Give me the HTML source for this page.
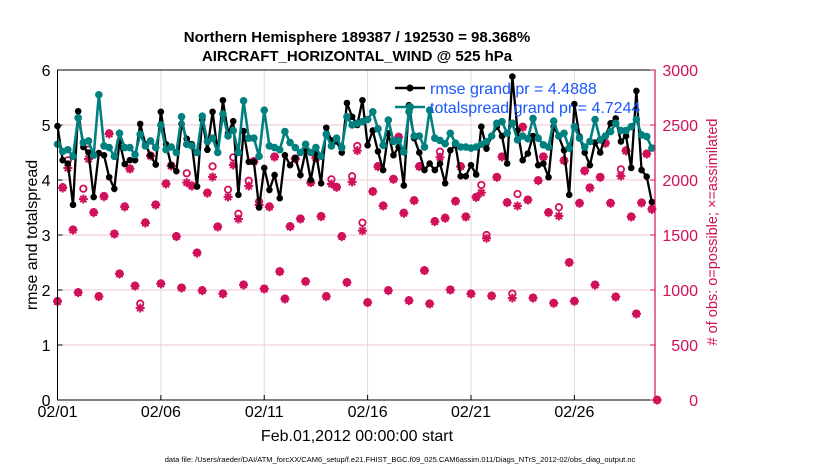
<!DOCTYPE html>
<html><head><meta charset="utf-8"><style>
body{margin:0;background:#fff;font-family:"Liberation Sans",sans-serif}
svg text{font-family:"Liberation Sans",sans-serif}
</style></head><body>
<svg id="chart" width="830" height="470" xmlns="http://www.w3.org/2000/svg">
<rect width="830" height="470" fill="#fff"/>
<text x="357" y="42" text-anchor="middle" font-size="15" font-weight="bold">Northern Hemisphere 189387 / 192530 = 98.368%</text>
<text x="357" y="61" text-anchor="middle" font-size="15" font-weight="bold">AIRCRAFT_HORIZONTAL_WIND @ 525 hPa</text>
<g id="grid"></g>
<g id="marks"></g>
<g id="axes"></g>
<text transform="translate(37,235) rotate(-90)" text-anchor="middle" font-size="16">rmse and totalspread</text>
<text transform="translate(717,232) rotate(-90)" text-anchor="middle" font-size="14.5" fill="#d0105a"># of obs: o=possible; ×=assimilated</text>
<text x="357" y="441" text-anchor="middle" font-size="16">Feb.01,2012 00:00:00 start</text>
<text x="400" y="462" text-anchor="middle" font-size="7.5">data file: /Users/raeder/DAI/ATM_forcXX/CAM6_setup/f.e21.FHIST_BGC.f09_025.CAM6assim.011/Diags_NTrS_2012-02/obs_diag_output.nc</text>
<g id="legend">
<line x1="395" y1="88" x2="425" y2="88" stroke="#000" stroke-width="2.5"/>
<circle cx="410" cy="88" r="3.5" fill="#000"/>
<text x="430" y="94" font-size="16" fill="#1a55ff">rmse grand pr = 4.4888</text>
<line x1="395" y1="107" x2="425" y2="107" stroke="#00807f" stroke-width="2.5"/>
<circle cx="410" cy="107" r="4" fill="#00807f"/>
<text x="430" y="113" font-size="16" fill="#1a55ff">totalspread grand pr = 4.7244</text>
</g>
</svg>
<script>
const rmse=[4.98,4.36,4.3,3.55,5.25,4.6,4.5,3.69,4.49,4.45,4.05,3.84,4.7,4.29,4.36,4.36,5.02,4.65,4.45,4.28,
5.24,4.65,4.27,4.16,5.02,4.75,4.65,3.88,5.1,4.55,5.24,4.5,5.45,4.85,5.07,3.73,4.89,4.33,4.33,3.5,
4.22,3.82,4.09,3.67,4.45,4.27,4.4,4.09,4.52,4.0,4.5,3.94,4.95,4.72,4.7,4.5,5.4,5.15,5.0,5.45,
4.63,4.9,4.52,4.18,4.85,4.45,4.6,3.9,5.36,4.76,4.5,4.18,4.3,4.18,4.3,3.94,4.54,4.63,
4.07,4.07,4.27,4.1,4.97,4.57,4.8,4.97,4.8,4.3,5.88,4.9,4.36,4.48,4.8,4.27,4.3,4.05,4.97,4.79,
4.54,3.73,5.38,4.79,4.5,4.27,4.68,4.5,4.8,5.03,5.12,4.7,4.8,4.22,5.62,4.18,4.06,3.6];
const spread=[4.65,4.52,4.55,4.43,5.13,4.68,4.71,4.45,5.55,4.62,4.59,4.43,4.85,4.59,4.59,4.46,4.83,4.62,4.71,4.59,
5.0,4.55,4.6,4.5,5.15,4.65,4.62,4.5,5.16,4.7,4.76,4.5,5.2,4.8,4.9,4.5,5.44,4.76,4.76,4.43,
5.27,4.62,4.59,4.55,4.88,4.68,4.59,4.5,4.65,4.5,4.59,4.43,4.83,4.62,4.76,4.59,5.15,5.0,5.03,5.06,
5.1,5.24,4.93,4.63,5.09,4.7,4.72,4.51,5.24,4.8,4.8,4.6,5.27,4.76,4.72,4.66,4.85,4.67,
4.6,4.6,4.58,4.6,4.65,4.7,4.8,5.03,5.06,4.85,5.03,4.73,4.8,4.75,5.12,4.76,4.64,4.6,5.07,4.8,
4.85,4.58,4.97,4.76,4.6,4.7,5.1,4.73,4.8,4.88,5.03,4.9,4.9,4.97,5.1,4.82,4.79,4.58];
const assimilated=[894,1927,2109,1545,976,1827,2191,1703,940,1848,2418,1509,1145,1755,2100,1036,836,1609,2218,1773,
1055,1964,2127,1485,1018,1976,1945,1336,994,1880,2027,1573,964,1845,2136,1645,1045,1945,2167,1773,
1009,1755,2209,1167,918,1576,2191,1645,1076,1976,2200,1667,940,1964,1933,1485,1067,1982,2267,1539,
885,1894,2121,1764,994,2006,2388,1697,903,1812,2121,1176,873,1621,2206,1652,1000,1806,
2121,1664,964,1842,1885,1470,945,2024,2209,1794,927,1764,2479,1818,927,1994,2209,1703,879,1673,
2176,1249,897,1788,2082,1927,1045,2024,2333,1788,936,2036,2264,1664,782,1791,2236,1733,0];
const possible=[900,1935,2179,1550,980,1921,2276,1708,945,1855,2425,1512,1150,1760,2105,1040,876,1615,2223,1778,
1060,1970,2132,1490,1022,2061,1950,1340,998,1885,2124,1578,968,1912,2206,1693,1050,1993,2172,1803,
1013,1760,2214,1170,922,1580,2196,1650,1080,1980,2205,1672,944,2006,1938,1490,1072,2034,2309,1612,
889,1898,2126,1768,998,2010,2393,1702,907,1816,2126,1180,877,1626,2258,1657,1004,1810,
2126,1668,968,1846,1955,1500,949,2028,2214,1798,967,1873,2484,1822,931,1998,2214,1708,883,1752,
2180,1253,901,1792,2086,1932,1049,2028,2338,1792,940,2097,2269,1668,786,1796,2240,1737,0];
const yTicks=[0,1,2,3,4,5,6];
const rTicks=[0,500,1000,1500,2000,2500,3000];
const xTickDays=[0,5,10,15,20,25];
const xTickLabels=["02/01","02/06","02/11","02/16","02/21","02/26"];
const stepDays=0.25;

const L=57.5,R=655,T=70,B=400,dayMax=28.9;
const X=d=>L+(R-L)*d/dayMax;
const Y=v=>B-(B-T)*v/6;
const Yr=c=>B-(B-T)*c/3000;
const NS="http://www.w3.org/2000/svg";
function mk(tag,attrs,parent){const e=document.createElementNS(NS,tag);for(const k in attrs)e.setAttribute(k,attrs[k]);parent.appendChild(e);return e;}
const grid=document.getElementById('grid'),marks=document.getElementById('marks'),axes=document.getElementById('axes');
const RED="#d0105a";
rTicks.forEach(t=>{const l=mk('line',{x1:L,x2:R,y1:Yr(t),y2:Yr(t),stroke:'#f2c6d6','stroke-width':1},grid);

});
xTickDays.forEach(d=>{const l=mk('line',{x1:X(d),x2:X(d),y1:T,y2:B,stroke:'#dcdcdc','stroke-width':1},grid);

});
possible.forEach((c,i)=>{const ci=mk('circle',{cx:X(i*stepDays),cy:Yr(c),r:3.2,fill:'none',stroke:RED,'stroke-width':1.8},marks);

});
assimilated.forEach((c,i)=>{const x=X(i*stepDays),y=Yr(c);const g=mk('g',{stroke:RED,'stroke-width':2},marks);


const r=4.5;mk('line',{x1:x-r,x2:x+r,y1:y,y2:y},g);mk('line',{x1:x,x2:x,y1:y-r,y2:y+r},g);
mk('line',{x1:x-r*.7,x2:x+r*.7,y1:y-r*.7,y2:y+r*.7},g);mk('line',{x1:x-r*.7,x2:x+r*.7,y1:y+r*.7,y2:y-r*.7},g);
mk('circle',{cx:x,cy:y,r:2.5,fill:RED,stroke:'none'},g);});
function series(arr,color,r,w,name){
 const pts=arr.map((v,i)=>X(i*stepDays)+','+Y(v)).join(' ');
 const pl=mk('polyline',{points:pts,fill:'none',stroke:color,'stroke-width':w},marks);
 
 
 arr.forEach((v,i)=>{const c=mk('circle',{cx:X(i*stepDays),cy:Y(v),r:r,fill:color},marks);
 
 });
}
series(rmse,'#000',3.3,2.3,'rmse');
series(spread,'#00807f',3.8,2.6,'totalspread');
mk('rect',{x:L,y:T,width:R-L,height:B-T,fill:'none',stroke:'#000','stroke-width':1},axes);
mk('line',{x1:R,x2:R,y1:T,y2:B,stroke:RED,'stroke-width':1.2},axes);
yTicks.forEach(t=>{mk('line',{x1:L,x2:L+5,y1:Y(t),y2:Y(t),stroke:'#000'},axes);
const tx=mk('text',{x:L-7,y:Y(t)+6,'text-anchor':'end','font-size':16},axes);tx.textContent=t;

});
rTicks.forEach(t=>{mk('line',{x1:R-5,x2:R,y1:Yr(t),y2:Yr(t),stroke:RED},axes);
const tx=mk('text',{x:R+43,y:Yr(t)+6,'text-anchor':'end','font-size':16,fill:RED},axes);tx.textContent=t;

});
xTickDays.forEach((d,i)=>{mk('line',{x1:X(d),x2:X(d),y1:B,y2:B-5,stroke:'#000'},axes);
const tx=mk('text',{x:X(d),y:B+17,'text-anchor':'middle','font-size':16},axes);tx.textContent=xTickLabels[i];

});
</script>
</body></html>
